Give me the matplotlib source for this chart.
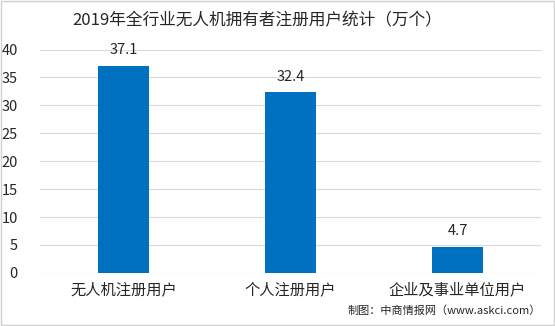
import matplotlib
matplotlib.use("Agg")
import matplotlib.pyplot as plt
from matplotlib.patches import Rectangle

plt.rcParams['font.family'] = ['Noto Sans CJK SC', 'DejaVu Sans']

categories = ['无人机注册用户', '个人注册用户', '企业及事业单位用户']
values = [37.1, 32.4, 4.7]
yticks = [0, 5, 10, 15, 20, 25, 30, 35, 40]

fig = plt.figure(figsize=(5.55, 3.26), dpi=100)
ax = fig.add_axes([0.072, 0.163, 0.903, 0.685])

bars = ax.bar(range(len(categories)), values, width=0.31, color='#0070C0', zorder=3)
for b, v in zip(bars, values):
    ax.text(b.get_x() + b.get_width() / 2, v + 1.5, f'{v}', ha='center', va='bottom',
            fontsize=10.5, color='#262626')

ax.set_xlim(-0.5, len(categories) - 0.5)
ax.set_ylim(0, 40)
ax.set_yticks(yticks)
ax.set_xticks(range(len(categories)))
ax.set_xticklabels(categories, fontsize=11, color='#262626')
ax.tick_params(axis='y', length=0, pad=16, labelsize=10.5, labelcolor='#262626')
ax.tick_params(axis='x', length=0, pad=6)
ax.grid(axis='y', color='#D9D9D9', linewidth=0.8, zorder=0)
for s in ax.spines.values():
    s.set_visible(False)

fig.text(0.463, 0.935, '2019年全行业无人机拥有者注册用户统计（万个）', ha='center', va='center',
         fontsize=12, color='#262626')
fig.text(0.975, 0.03, '制图：中商情报网（www.askci.com）', ha='right', va='bottom',
         fontsize=8, color='#262626')

fig.patches.append(Rectangle((0.002, 0.003), 0.996, 0.994, transform=fig.transFigure,
                             fill=False, edgecolor='#D0D0D0', linewidth=1))

fig.savefig('out.png', dpi=100)
plt.close(fig)
